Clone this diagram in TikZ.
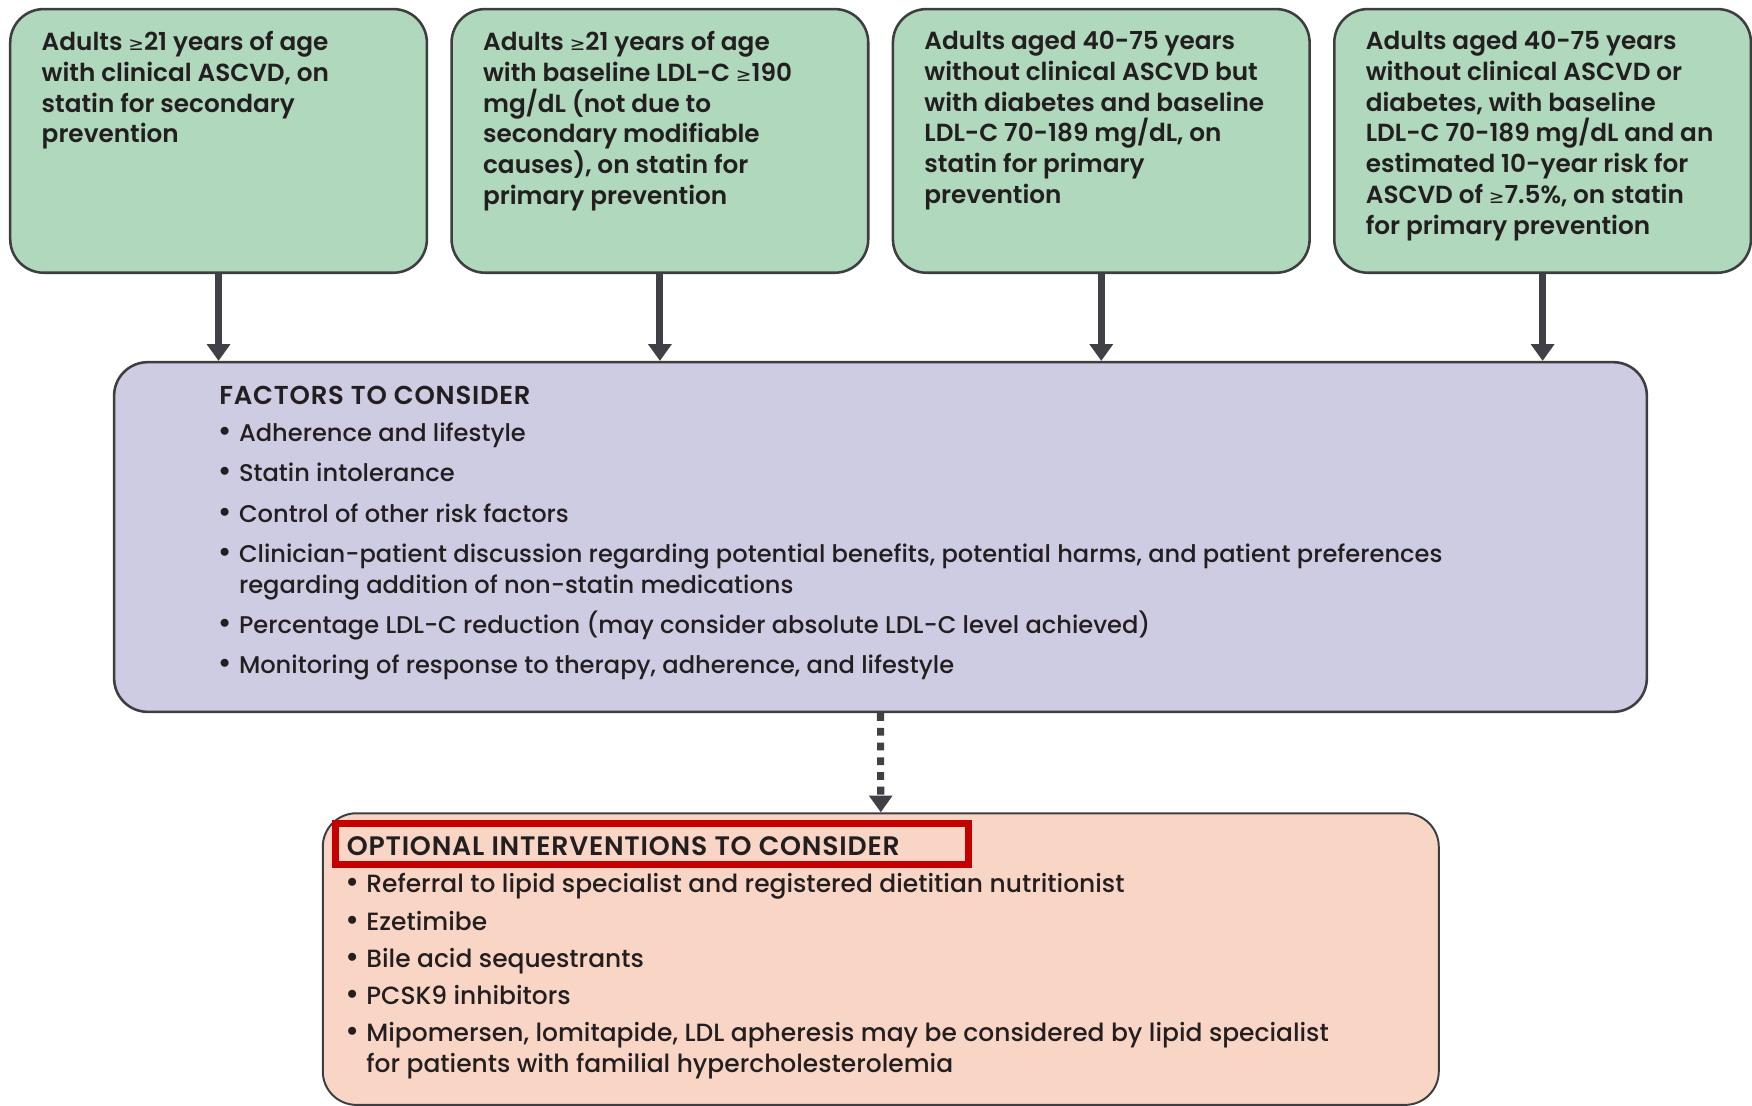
\documentclass[tikz,border=0pt]{standalone}
\usepackage{fontspec}
\setmainfont{Poppins}[UprightFont={* Medium}, BoldFont={* SemiBold}]
\newfontfamily\symbolFont{DejaVu Sans}
\usetikzlibrary{positioning, arrows.meta}
\definecolor{criterionFill}{RGB}{176,216,188}
\definecolor{factorsFill}{RGB}{206,204,226}
\definecolor{optionsFill}{RGB}{249,213,198}
\definecolor{borderColor}{RGB}{62,62,64}
\definecolor{arrowColor}{RGB}{64,64,70}
\definecolor{highlightRed}{RGB}{196,0,0}
\definecolor{textColor}{RGB}{35,31,32}
\tikzstyle{flowchart} = [x = 0.02cm, y = -0.02cm]
\tikzstyle{criterionStyle} = [draw=borderColor, fill=criterionFill, line width=1.3pt, rounded corners=0.6cm, anchor=north west, minimum width=7.46cm, minimum height=4.72cm, inner sep=0pt]
\tikzstyle{factorsStyle} = [draw=borderColor, fill=factorsFill, line width=1.3pt, rounded corners=0.6cm, anchor=north west, minimum width=27.44cm, minimum height=6.26cm, inner sep=0pt]
\tikzstyle{optionsStyle} = [draw=borderColor, fill=optionsFill, line width=1pt, rounded corners=0.6cm, anchor=north west, minimum width=19.98cm, minimum height=5.22cm, inner sep=0pt]
\tikzstyle{highlightStyle} = [draw=highlightRed, line width=3.4pt, anchor=north west, minimum width=11.34cm, minimum height=0.74cm, inner sep=0pt]
\tikzstyle{criterionText} = [anchor=north west, inner sep=0pt, align=left, text=textColor, font=\fontsize{12.6}{15.7}\selectfont\bfseries]
\tikzstyle{listText} = [anchor=north west, inner sep=0pt, align=left, text=textColor, font=\fontsize{12.3}{15.9}\selectfont]
\tikzstyle{flowArrow} = [draw=arrowColor, line width=3.6pt, -{Triangle[width=11.5pt, length=8.5pt]}]
\tikzstyle{dottedArrow} = [flowArrow, dash pattern=on 4pt off 3.5pt]
\newcommand{\geqSign}{{\symbolFont\mdseries\fontsize{9.5}{12}\selectfont ≥}}
\newcommand{\bulletIndent}{10pt}
\newcommand{\listItem}[1]{\makebox[\bulletIndent][l]{\kern-1.4pt\symbolFont\fontsize{14}{12}\selectfont •}#1}
\newcommand{\listIndent}{\makebox[\bulletIndent]{}}
\newcommand{\listHeading}[2]{{\bfseries\fontsize{#1}{15.9}\selectfont\addfontfeature{LetterSpace=3}#2}}
\newcommand{\criterionBox}[3]{
  \node [criterionStyle] (#1) at (#2, 7) {};
  \node [criterionText] (#1Text) at ([shift={(29, 20.5)}]#1.north west) {#3};
  \draw [flowArrow] (#1.south) -- (#1.south |- factors.north);
}

\begin{document}
\begin{tikzpicture}[flowchart]
  \useasboundingbox (0, 0) rectangle (1568, 989);
  \node [factorsStyle] (factors) at (101, 323) {};
  \node [optionsStyle] (options) at (288, 727) {};

  \criterionBox{clinicalAscvd}{8}{Adults \geqSign21 years of age\\with clinical ASCVD, on\\statin for secondary\\prevention}
  \criterionBox{highLdl}{403}{Adults \geqSign21 years of age\\with baseline LDL-C \geqSign190\\mg/dL (not due to\\secondary modifiable\\causes), on statin for\\primary prevention}
  \criterionBox{diabetes}{798}{Adults aged 40-75 years\\without clinical ASCVD but\\with diabetes and baseline\\LDL-C 70-189 mg/dL, on\\statin for primary\\prevention}
  \criterionBox{highRisk}{1193}{Adults aged 40-75 years\\without clinical ASCVD or\\diabetes, with baseline\\LDL-C 70-189 mg/dL and an\\estimated 10-year risk for\\ASCVD of \geqSign7.5\%, on statin\\for primary prevention}

  \draw [dottedArrow] (factors.south) -- (options.north);

  \node [listText] (factorsText) at ([shift={(95, 22)}]factors.north west) {\listHeading{13.2}{FACTORS TO CONSIDER}\\[3.3pt]
    \listItem{Adherence and lifestyle}\\[4.5pt]
    \listItem{Statin intolerance}\\[4.5pt]
    \listItem{Control of other risk factors}\\[4.5pt]
    \listItem{Clinician-patient discussion regarding potential benefits, potential harms, and patient preferences}\\
    \listIndent regarding addition of non-statin medications\\[4.5pt]
    \listItem{Percentage LDL-C reduction (may consider absolute LDL-C level achieved)}\\[4.5pt]
    \listItem{Monitoring of response to therapy, adherence, and lifestyle}};

  \node [listText, font=\fontsize{12.7}{15.9}\selectfont] (optionsText) at ([shift={(22, 21.5)}]options.north west) {\listHeading{13.6}{OPTIONAL INTERVENTIONS TO CONSIDER}\\[3.1pt]
    \listItem{Referral to lipid specialist and registered dietitian nutritionist}\\[3pt]
    \listItem{Ezetimibe}\\[3pt]
    \listItem{Bile acid sequestrants}\\[3pt]
    \listItem{PCSK9 inhibitors}\\[3pt]
    \listItem{Mipomersen, lomitapide, LDL apheresis may be considered by lipid specialist}\\
    \listIndent for patients with familial hypercholesterolemia};

  \node [highlightStyle] (optionsHighlight) at (297, 734) {};
\end{tikzpicture}
\end{document}
